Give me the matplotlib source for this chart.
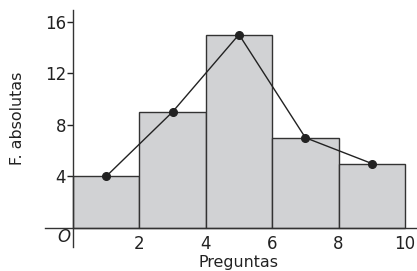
import matplotlib
matplotlib.use("Agg")
import matplotlib.pyplot as plt

# Data
bin_edges = [0, 2, 4, 6, 8, 10]
frequencies = [4, 9, 15, 7, 5]
midpoints = [1, 3, 5, 7, 9]
x_ticks = [2, 4, 6, 8, 10]
y_ticks = [4, 8, 12, 16]

plt.rcParams['font.family'] = ['DejaVu Sans']

fig = plt.figure(figsize=(4.17, 2.71), dpi=100)
ax = fig.add_axes([45/417, 24/271, 372/417, 237/271])

widths = [bin_edges[i+1] - bin_edges[i] for i in range(len(frequencies))]
ax.bar(bin_edges[:-1], frequencies, width=widths, align='edge',
       color='#d1d2d4', edgecolor='#333333', linewidth=1.0, zorder=2)
ax.plot(midpoints, frequencies, color='#222222', linewidth=1.0,
        marker='o', markersize=5.5, zorder=3)

ax.set_xlim(-0.84, 10.36)
ax.set_ylim(-1.47, 16.9)

for s in ['top', 'right']:
    ax.spines[s].set_visible(False)
ax.spines['left'].set_position(('data', 0))
ax.spines['bottom'].set_position(('data', 0))
ax.spines['left'].set_color('#333333')
ax.spines['bottom'].set_color('#333333')
ax.spines['left'].set_linewidth(1.0)
ax.spines['bottom'].set_linewidth(1.0)

ax.set_xticks(x_ticks)
ax.set_xticklabels([str(t) for t in x_ticks])
ax.set_yticks(y_ticks)
ax.set_yticklabels([str(t) for t in y_ticks])
ax.tick_params(axis='x', length=0, pad=5, labelsize=12, colors='#222222')
ax.tick_params(axis='y', length=4, width=1, direction='out', pad=1,
               labelsize=12, colors='#222222')

ax.text(-0.27, -0.7, 'O', fontsize=12, style='italic', ha='center', va='center',
        color='#222222')

fig.text(239/417, 1 - 263/271, 'Preguntas', ha='center', va='center',
         fontsize=11.4, color='#222222')
fig.text(18/417, 1 - 118/271, 'F. absolutas', ha='center', va='center',
         rotation=90, fontsize=11.4, color='#222222')

fig.savefig('out.png', dpi=100)
